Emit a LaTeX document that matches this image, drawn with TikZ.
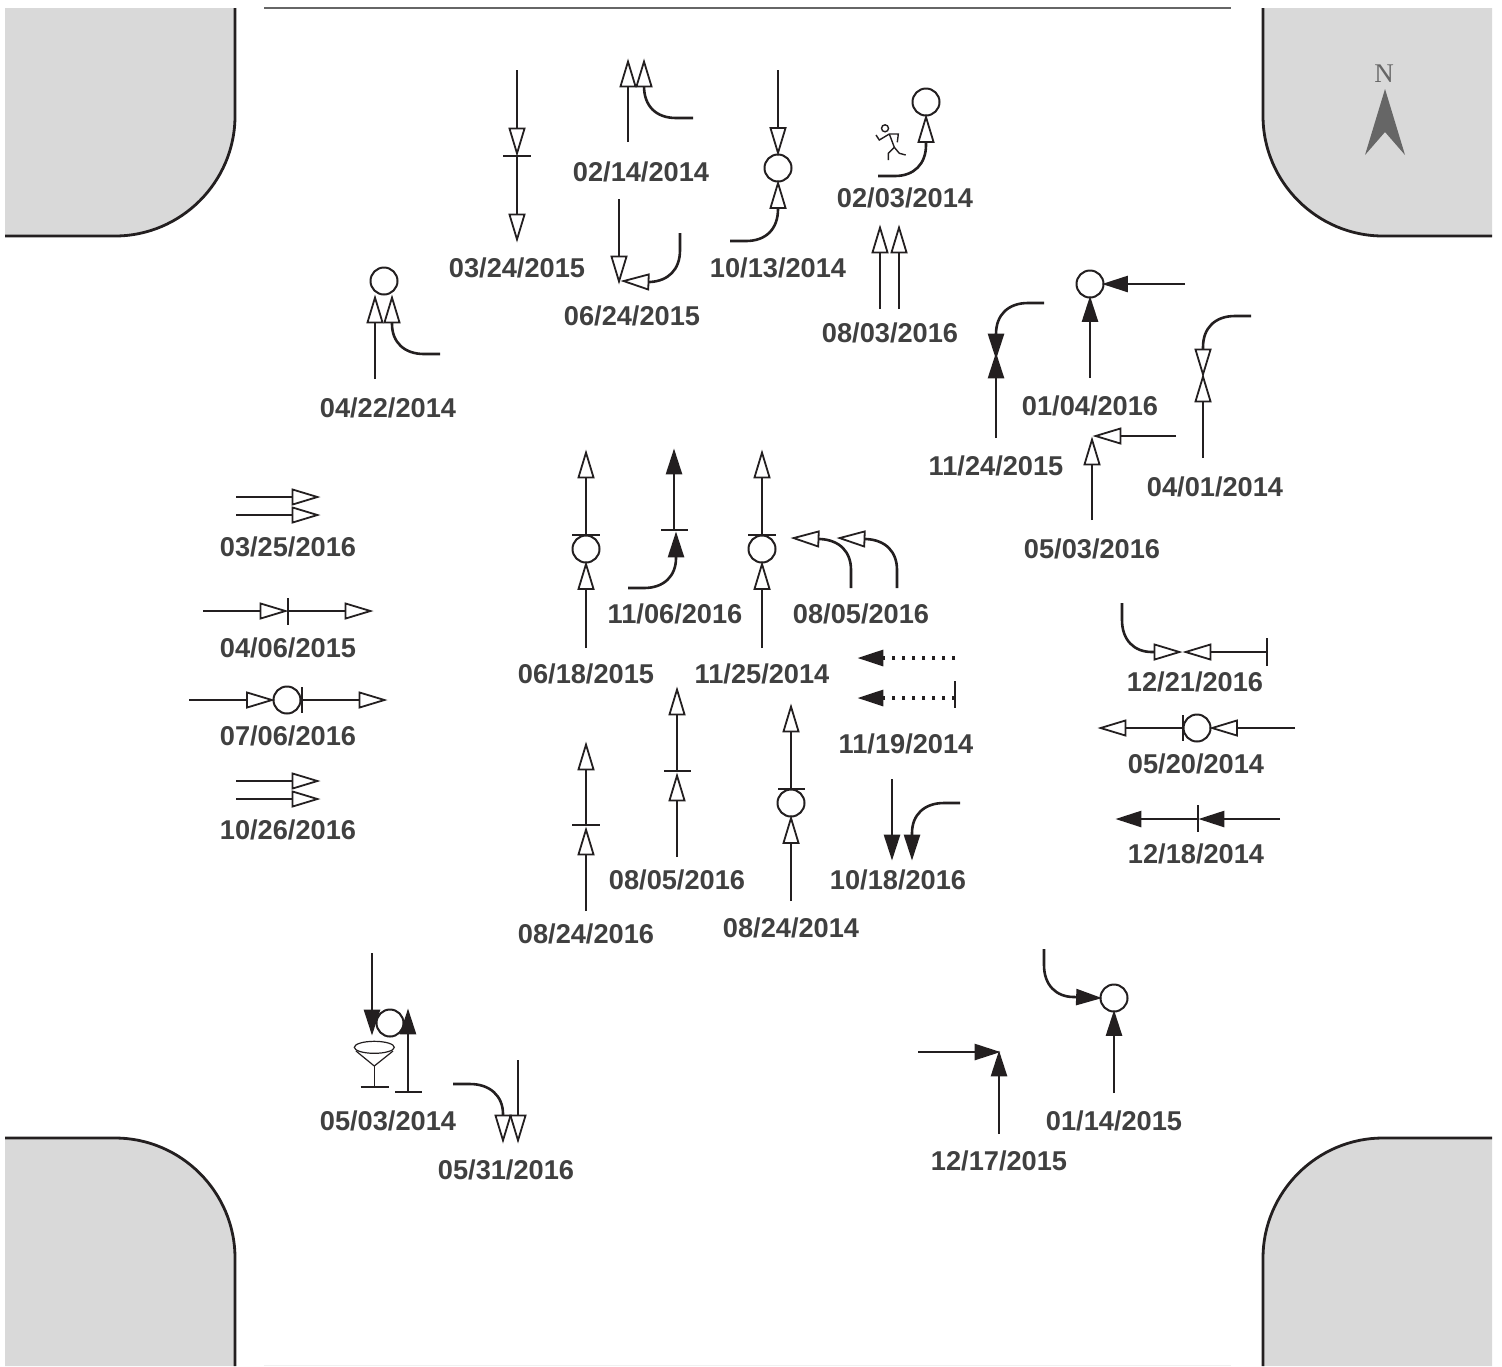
\documentclass[tikz,border=0pt]{standalone}
\usepackage{fontspec}
\setmainfont{Liberation Sans}
\newfontfamily\nfont{Liberation Serif}
\usetikzlibrary{arrows.meta}
\definecolor{ink}{HTML}{231F20}
\definecolor{road}{HTML}{D9D9D9}
\definecolor{txt}{HTML}{404040}
\definecolor{north}{HTML}{666666}
\tikzset{
  lab/.style={font=\fontsize{13.6}{15}\selectfont\bfseries,text=txt,inner sep=0pt},
  mv/.style={draw=ink,line width=1.3pt},
  oa/.style={mv,shorten >=-0.8pt,-{Triangle[length=14.5pt,width=8.5pt,fill=white,line width=0.9pt]}},
  sa/.style={mv,shorten >=-0.8pt,-{Triangle[length=13pt,width=8pt,fill=ink]}},
  da/.style={mv,line width=1.6pt,dash pattern=on 1.6pt off 3.4pt,shorten >=-0.8pt,-{Triangle[length=13pt,width=8pt,fill=ink]}},
  sbar/.style={draw=ink,line width=1.2pt},
  junc/.style={circle,draw=ink,fill=white,line width=1pt,minimum size=13.5pt,inner sep=0pt,outer sep=0pt},
  curbf/.style={fill=road},
  curbl/.style={draw=ink,line width=1.4pt},
  thin/.style={draw=ink,line width=0.6pt},
}
\begin{document}
\begin{tikzpicture}[x=0.5pt,y=-0.5pt]
\useasboundingbox (0,0) rectangle (1502,1366);
% corners
\fill[curbf] (5,8) -- (235,8) -- (235,116) .. controls (235,182) and (181,236) .. (115,236) -- (5,236) -- cycle;
\draw[curbl] (235,8) -- (235,116) .. controls (235,182) and (181,236) .. (115,236) -- (5,236);
\fill[curbf] (1492,8) -- (1263,8) -- (1263,116) .. controls (1263,182) and (1317,236) .. (1383,236) -- (1492,236) -- cycle;
\draw[curbl] (1263,8) -- (1263,116) .. controls (1263,182) and (1317,236) .. (1383,236) -- (1492,236);
\fill[curbf] (5,1366) -- (235,1366) -- (235,1258) .. controls (235,1192) and (181,1138) .. (115,1138) -- (5,1138) -- cycle;
\draw[curbl] (235,1366) -- (235,1258) .. controls (235,1192) and (181,1138) .. (115,1138) -- (5,1138);
\fill[curbf] (1492,1366) -- (1263,1366) -- (1263,1258) .. controls (1263,1192) and (1317,1138) .. (1383,1138) -- (1492,1138) -- cycle;
\draw[curbl] (1263,1366) -- (1263,1258) .. controls (1263,1192) and (1317,1138) .. (1383,1138) -- (1492,1138);
\draw[north,line width=0.7pt] (264,8) -- (1231,8);
\draw[black!6,line width=0.5pt] (264,1365.5) -- (1231,1365.5);
% north
\node[font=\nfont\fontsize{13.5}{15}\selectfont,text=north,inner sep=0pt] (n) at (1384,74) {N};
\fill[north] (1385,89) -- (1405,155) -- (1385,132) -- (1365,155) -- cycle;
% 03/24/2015
\draw[oa] (517,70) -- (517,155);
\draw[oa] (517,156) -- (517,241);
\draw[sbar] (503,156) -- (531,156);
\node[lab] (l1) at (517,268) {03/24/2015};
% 02/14/2014
\draw[oa] (628,142) -- (628,60);
\draw[oa] (693,118) -- (676,118) .. controls (656,118) and (644,106) .. (644,86) -- (644,60);
\node[lab] (l2) at (641,172) {02/14/2014};
% 10/13/2014
\node[junc] (c3) at (778,168) {};
\draw[oa] (778,70) -- (c3.north);
\draw[oa] (730,241) -- (746,241) .. controls (766,241) and (778,229) .. (778,209) -- (c3.south);
\node[lab] (l3) at (778,268) {10/13/2014};
% 02/03/2014
\node[junc] (c4) at (926,102) {};
\draw[oa] (878,176) -- (895,176) .. controls (914,176) and (926,164) .. (926,145) -- (c4.south);
\draw[thin,line width=0.7pt] (876,135) -- (879.3,140) -- (889.3,134) -- (898.3,134) -- (897.3,142.3);
\draw[thin,line width=0.7pt] (889.3,134) -- (894.3,147.3) -- (899.3,153.3) -- (905.7,155);
\draw[thin,line width=0.7pt] (894.3,147.3) -- (888.3,153.3) -- (888.3,160);
\draw[thin,fill=white,line width=0.7pt] (885,128.3) circle[radius=3.5];
\node[lab] (l4) at (905,198) {02/03/2014};
% 06/24/2015
\draw[oa] (619,199) -- (619,283);
\draw[oa] (680,233) -- (680,250) .. controls (680,270) and (668,281) .. (650,282) -- (622,281);
\node[lab] (l5) at (632,316) {06/24/2015};
% 08/03/2016
\draw[oa] (880,309) -- (880,226);
\draw[oa] (899,309) -- (899,226);
\node[lab] (l6) at (890,333) {08/03/2016};
% 04/22/2014
\node[junc] (c7) at (384,281) {};
\draw[oa] (375,379) -- (375,296);
\draw[oa] (440,354) -- (424,354) .. controls (404,354) and (392,342) .. (392,324) -- (392,296);
\node[lab] (l7) at (388,408) {04/22/2014};
% 01/04/2016
\node[junc] (c8) at (1090,284) {};
\draw[sa] (1090,378) -- (c8.south);
\draw[sa] (1185,284) -- (c8.east);
\node[lab] (l8) at (1090,406) {01/04/2016};
% 11/24/2015
\draw[sa] (996,438) -- (996,354);
\draw[sa] (1044,303) -- (1028,303) .. controls (1008,303) and (996,315) .. (996,334) -- (996,358);
\node[lab] (l9) at (996,466) {11/24/2015};
% 04/01/2014
\draw[oa] (1203,458) -- (1203,375);
\draw[oa] (1251,316) -- (1235,316) .. controls (1215,316) and (1203,328) .. (1203,347) -- (1203,376);
\node[lab] (l10) at (1215,487) {04/01/2014};
% 05/03/2016
\draw[oa] (1092,520) -- (1092,438);
\draw[oa] (1176,436) -- (1094,436);
\node[lab] (l11) at (1092,549) {05/03/2016};
% 03/25/2016
\draw[oa] (236,497) -- (319,497);
\draw[oa] (236,515) -- (319,515);
\node[lab] (l12) at (288,547) {03/25/2016};
% 04/06/2015
\draw[oa] (203,611) -- (287,611);
\draw[oa] (288,611) -- (372,611);
\draw[sbar] (288,598) -- (288,625);
\node[lab] (l13) at (288,648) {04/06/2015};
% 07/06/2016
\node[junc] (c14) at (287,700) {};
\draw[oa] (189,700) -- (c14.west);
\draw[oa] (302,700) -- (386,700);
\draw[sbar] (302,687) -- (302,713);
\node[lab] (l14) at (288,736) {07/06/2016};
% 10/26/2016
\draw[oa] (236,781) -- (319,781);
\draw[oa] (236,799) -- (319,799);
\node[lab] (l15) at (288,830) {10/26/2016};
% 06/18/2015
\node[junc] (c16) at (586,549) {};
\draw[oa] (586,648) -- (c16.south);
\draw[oa] (586,535) -- (586,451);
\draw[sbar] (572,535) -- (600,535);
\node[lab] (l16) at (586,674) {06/18/2015};
% 11/06/2016
\draw[sa] (628,588) -- (644,588) .. controls (664,588) and (676,576) .. (676,558) -- (676,533);
\draw[sa] (674,530) -- (674,450);
\draw[sbar] (661,530) -- (688,530);
\node[lab] (l17) at (675,614) {11/06/2016};
% 11/25/2014
\node[junc] (c18) at (762,549) {};
\draw[oa] (762,648) -- (c18.south);
\draw[oa] (762,535) -- (762,451);
\draw[sbar] (748,535) -- (776,535);
\node[lab] (l18) at (762,674) {11/25/2014};
% 08/05/2016 top
\draw[oa] (851,588) -- (851,570) .. controls (851,552) and (840,540) .. (820,539) -- (792,538);
\draw[oa] (897,588) -- (897,570) .. controls (897,552) and (886,540) .. (866,539) -- (838,538);
\node[lab] (l19) at (861,614) {08/05/2016};
% 11/19/2014
\draw[da] (955,658) -- (859,658);
\draw[da] (955,698) -- (859,698);
\draw[sbar,line width=1.3pt] (955,681) -- (955,708);
\node[lab] (l20) at (906,744) {11/19/2014};
% 12/21/2016
\draw[oa] (1122,603) -- (1122,620) .. controls (1122,640) and (1134,652) .. (1152,652) -- (1181,652);
\draw[oa] (1267,652) -- (1184,652);
\draw[sbar] (1267,638) -- (1267,666);
\node[lab] (l21) at (1195,682) {12/21/2016};
% 05/20/2014
\node[junc] (c22) at (1197,728) {};
\draw[oa] (1295,728) -- (c22.east);
\draw[oa] (1183,728) -- (1099,728);
\draw[sbar] (1183,715) -- (1183,741);
\node[lab] (l22) at (1196,764) {05/20/2014};
% 12/18/2014
\draw[sa] (1280,819) -- (1200,819);
\draw[sa] (1198,819) -- (1117,819);
\draw[sbar] (1198,805) -- (1198,832);
\node[lab] (l23) at (1196,854) {12/18/2014};
% 08/24/2016
\draw[oa] (586,911) -- (586,828);
\draw[oa] (586,825) -- (586,743);
\draw[sbar] (572,825) -- (600,825);
\node[lab] (l24) at (586,934) {08/24/2016};
% 08/05/2016 lower
\draw[oa] (677,857) -- (677,774);
\draw[oa] (677,771) -- (677,688);
\draw[sbar] (664,771) -- (691,771);
\node[lab] (l25) at (677,880) {08/05/2016};
% 08/24/2014
\node[junc] (c26) at (791,803) {};
\draw[oa] (791,901) -- (c26.south);
\draw[oa] (791,789) -- (791,705);
\draw[sbar] (778,789) -- (805,789);
\node[lab] (l26) at (791,928) {08/24/2014};
% 10/18/2016
\draw[sa] (892,779) -- (892,859);
\draw[sa] (960,803) -- (944,803) .. controls (924,803) and (912,815) .. (912,833) -- (912,859);
\node[lab] (l27) at (898,880) {10/18/2016};
% 05/03/2014
\node[junc] (c28) at (390,1023) {};
\draw[sa] (372,953) -- (372,1034);
\draw[sa] (408,1092) -- (408,1010);
\draw[sbar,line width=1.3pt] (395,1092) -- (422,1092);
\draw[thin] (374.3,1066) -- (356,1051);
\draw[thin] (374.3,1066) -- (393,1051);
\draw[thin] (374.3,1047.3) ellipse[x radius=20,y radius=6];
\draw[thin] (374.3,1066) -- (374.3,1087);
\draw[thin] (360.7,1087) -- (388.7,1087);
\node[lab] (l28) at (388,1121) {05/03/2014};
% 05/31/2016
\draw[oa] (453,1084) -- (470,1084) .. controls (490,1084) and (503,1096) .. (503,1114) -- (503,1142);
\draw[oa] (518,1060) -- (518,1142);
\node[lab] (l29) at (506,1170) {05/31/2016};
% 01/14/2015
\node[junc] (c30) at (1114,998) {};
\draw[sa] (1114,1093) -- (c30.south);
\draw[sa] (1044,949) -- (1044,965) .. controls (1044,985) and (1056,997) .. (1074,997) -- (c30.west);
\node[lab] (l30) at (1114,1121) {01/14/2015};
% 12/17/2015
\draw[sa] (918,1052) -- (999,1052);
\draw[sa] (999,1134) -- (999,1052);
\node[lab] (l31) at (999,1161) {12/17/2015};
\end{tikzpicture}
\end{document}
